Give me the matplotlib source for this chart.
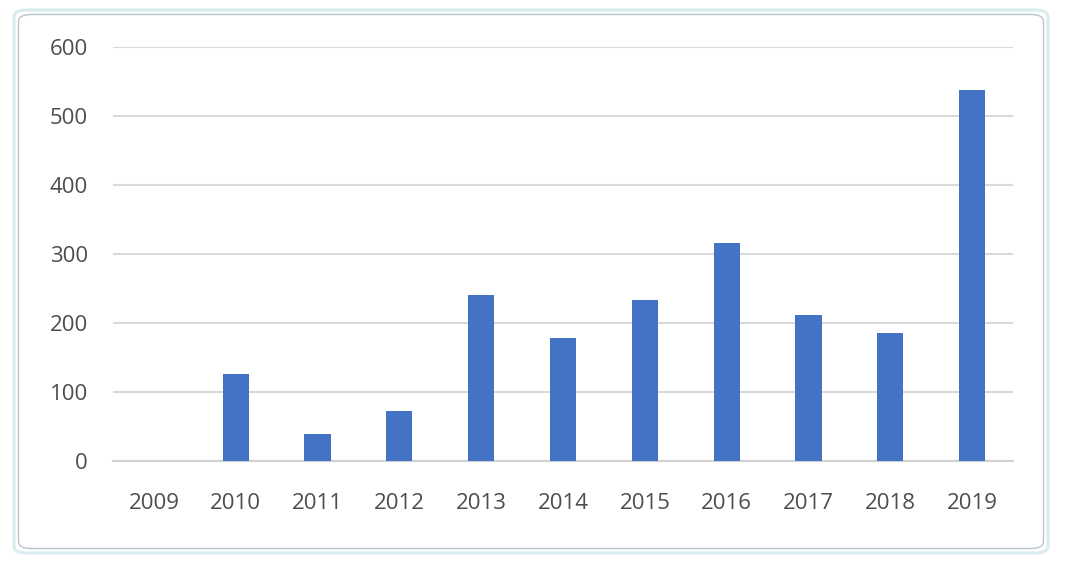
import matplotlib
matplotlib.use("Agg")
import matplotlib.pyplot as plt
from matplotlib.patches import FancyBboxPatch

years = ["2009", "2010", "2011", "2012", "2013", "2014", "2015", "2016", "2017", "2018", "2019"]
values = [0, 126, 39, 72, 240, 178, 233, 315, 211, 186, 538]
yticks = [0, 100, 200, 300, 400, 500, 600]

W, H = 1065, 563
fig = plt.figure(figsize=(W / 100, H / 100), dpi=100)
fig.patch.set_facecolor("white")

# outer chart frame
frame_outer = FancyBboxPatch((14 / W, 1 - 553 / H), (1048 - 14) / W, (553 - 10) / H,
                             boxstyle="round,pad=0,rounding_size=0.012",
                             transform=fig.transFigure, facecolor="none",
                             edgecolor="#d8ecee", linewidth=2.2, zorder=-2)
fig.patches.append(frame_outer)
frame_inner = FancyBboxPatch((18.5 / W, 1 - 548.5 / H), (1043.5 - 18.5) / W, (548.5 - 14.5) / H,
                             boxstyle="round,pad=0,rounding_size=0.012",
                             transform=fig.transFigure, facecolor="none",
                             edgecolor="#b5c7ca", linewidth=1.0, zorder=-2)
fig.patches.append(frame_inner)

ax = fig.add_axes([113 / W, 1 - 461 / H, (1013 - 113) / W, (461 - 46.7) / H])
ax.set_facecolor("none")
x = list(range(len(years)))
ax.bar(x, values, width=0.32, color="#4472c4", zorder=3)
ax.set_xlim(-0.5, len(years) - 0.5)
ax.set_ylim(0, 600)
ax.set_yticks(yticks)
ax.set_yticklabels([str(t) for t in yticks])
ax.set_xticks(x)
ax.set_xticklabels(years)
ax.yaxis.grid(True, color="#d9d9d9", linewidth=1.5, zorder=0)
ax.set_axisbelow(True)
for s in ["top", "right", "left"]:
    ax.spines[s].set_visible(False)
ax.spines["bottom"].set_color("#d0d0d0")
ax.spines["bottom"].set_linewidth(1.5)
ax.tick_params(axis="both", length=0, labelsize=16, labelcolor="#4d4d4d")
ax.tick_params(axis="y", pad=18)
ax.tick_params(axis="x", pad=23)
for lab in ax.get_xticklabels() + ax.get_yticklabels():
    lab.set_family(["Open Sans", "DejaVu Sans"])

fig.savefig("out.png", dpi=100, facecolor="white")
